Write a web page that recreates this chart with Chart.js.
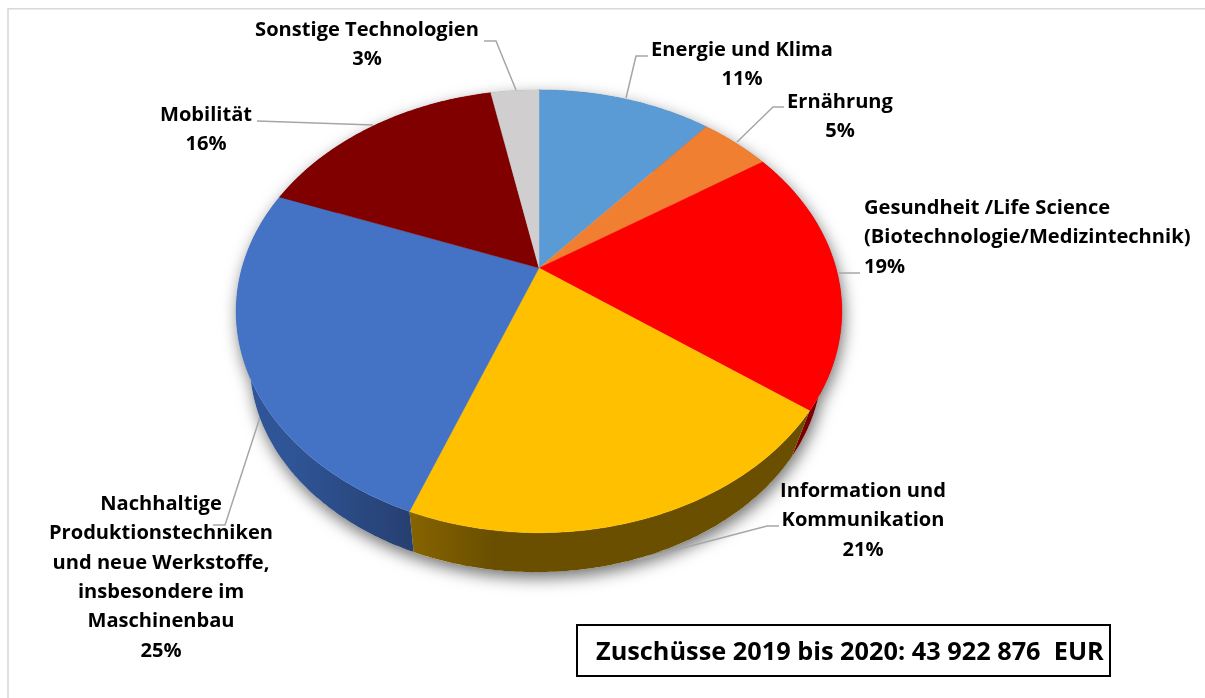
<!DOCTYPE html>
<html lang="de"><head><meta charset="utf-8">
<style>html,body{margin:0;padding:0;background:#fff}#w{position:relative;width:1205px;height:698px}</style>
<script src="https://cdn.jsdelivr.net/npm/chart.js@4"></script>
</head><body><div id="w"><canvas id="c" width="1205" height="698"></canvas></div>
<script>
const categories = ["Energie und Klima","Ernährung","Gesundheit /Life Science (Biotechnologie/Medizintechnik)","Information und Kommunikation","Nachhaltige Produktionstechniken und neue Werkstoffe, insbesondere im Maschinenbau","Mobilität","Sonstige Technologien"];
const values = [11.2,4.5,19.4,20.7,25,16.1,3.1];
const labelLines = [["Energie und Klima"],["Ernährung"],["Gesundheit /Life Science","(Biotechnologie/Medizintechnik)"],["Information und","Kommunikation"],["Nachhaltige","Produktionstechniken","und neue Werkstoffe,","insbesondere im","Maschinenbau"],["Mobilität"],["Sonstige Technologien"]];
const sliceColors = ["#5B9BD5","#F07F31","#FF0000","#FFC000","#4472C4","#800000","#D0CECE"];
const wallFrom = ["#3a6a96","#a85a22","#800000","#856300","#2f5597","#500000","#8a8a8a"];
const wallTo   = ["#3a6a96","#a85a22","#7a0000","#6a4f00","#263f70","#500000","#8a8a8a"];
const totalText = "Zuschüsse 2019 bis 2020: 43 922 876  EUR";

const labelPos = [[742,50,"center"],[840,102,"center"],[864,208,"left"],[863,491,"center"],[161,504,"center"],[206,115,"center"],[367,30,"center"]];
const leaders = [
 [[648,56],[636,56],[626,98]],
 [[784,107],[773,107],[737,142]],
 [[860,273],[839,273]],
 [[779,526],[767,526],[637,560]],
 [[213,525],[225,525],[263,408]],
 [[257,121],[373,125]],
 [[484,41],[496,41],[516,90]]
];
const LINE_H = 29.4, K = 0.1955, SY = 0.717, SHRINK = 0.945, DROP = 54, SKEW = -3;

function proj(el,a,lower){
  const u=Math.cos(a),v=Math.sin(a),d=1-K*v,s=lower?SHRINK:1,R=el.outerRadius;
  return [el.x+(lower?SKEW:0)+s*R*u/d, el.y+(lower?DROP:0)+s*R*SY*v/d];
}
function rim(ctx,el,a0,a1,lower,first){
  const n=Math.max(2,Math.ceil(Math.abs(a1-a0)/0.012));
  for(let i=0;i<=n;i++){
    const p=proj(el,a0+(a1-a0)*i/n,lower);
    if(i===0&&first)ctx.moveTo(p[0],p[1]);else ctx.lineTo(p[0],p[1]);
  }
}
const pie3d={
  id:"pie3d",
  beforeDatasetsDraw(chart){
    const ctx=chart.ctx,arcs=chart.getDatasetMeta(0).data,el=arcs[0];
    ctx.save();
    ctx.strokeStyle="#d9d9d9";ctx.lineWidth=1.6;
    ctx.beginPath();ctx.moveTo(8,698);ctx.lineTo(8,8.8);ctx.lineTo(1205,8.8);ctx.stroke();
    ctx.save();
    ctx.shadowColor="rgba(0,0,0,0.55)";ctx.shadowBlur=16;ctx.shadowOffsetX=2;ctx.shadowOffsetY=6;
    ctx.fillStyle="#fff";
    ctx.beginPath();rim(ctx,el,0,Math.PI*2,false,true);ctx.closePath();
    rim(ctx,el,0,Math.PI*2,true,true);ctx.closePath();ctx.fill("nonzero");
    ctx.restore();
    ctx.strokeStyle="#a6a6a6";ctx.lineWidth=1.5;
    leaders.forEach(l=>{ctx.beginPath();l.forEach((p,i)=>i?ctx.lineTo(p[0],p[1]):ctx.moveTo(p[0],p[1]));ctx.stroke();});
    arcs.forEach((a,i)=>{
      const s=proj(a,a.startAngle,true),e=proj(a,a.endAngle,true);
      const x0=Math.max(s[0],e[0]),x1=Math.min(s[0],e[0]);
      const g=ctx.createLinearGradient(x1,0,i===3?x1+80:x0,0);
      g.addColorStop(0,wallFrom[i]);g.addColorStop(1,wallTo[i]);
      ctx.fillStyle=g;ctx.beginPath();
      rim(ctx,a,a.startAngle,a.endAngle,false,true);
      rim(ctx,a,a.endAngle,a.startAngle,true,false);
      ctx.closePath();ctx.fill();
    });
    arcs.forEach((a,i)=>{
      ctx.fillStyle=sliceColors[i];ctx.strokeStyle=sliceColors[i];ctx.lineWidth=0.4;
      ctx.beginPath();ctx.moveTo(a.x,a.y);
      rim(ctx,a,a.startAngle,a.endAngle,false,false);
      ctx.closePath();ctx.fill();ctx.stroke();
    });
    ctx.restore();
    return false;
  },
  afterDraw(chart){
    const ctx=chart.ctx;
    ctx.save();
    ctx.fillStyle="#000";ctx.textBaseline="middle";
    ctx.font='bold 20.1px "Open Sans", Lato, sans-serif';
    labelLines.forEach((lines,i)=>{
      const [x,y,al]=labelPos[i];ctx.textAlign=al;
      lines.concat(Math.round(values[i])+"%").forEach((t,j)=>ctx.fillText(t,x,y+j*LINE_H));
    });
    ctx.strokeStyle="#000";ctx.lineWidth=2;ctx.fillStyle="#fff";
    ctx.fillRect(577,625,533,51);ctx.strokeRect(577,625,533,51);
    ctx.fillStyle="#000";ctx.textAlign="left";
    ctx.font='bold 25.3px "Open Sans", Lato, sans-serif';
    ctx.fillText(totalText,596,653);
    ctx.restore();
  }
};
new Chart(document.getElementById("c"),{
  type:"pie",
  data:{labels:categories,datasets:[{data:values,backgroundColor:sliceColors,borderWidth:0}]},
  options:{responsive:false,animation:false,radius:297,
    layout:{padding:{left:0,top:0,right:127,bottom:162}},
    plugins:{legend:{display:false},tooltip:{enabled:false}}},
  plugins:[pie3d]
});
</script></body></html>
